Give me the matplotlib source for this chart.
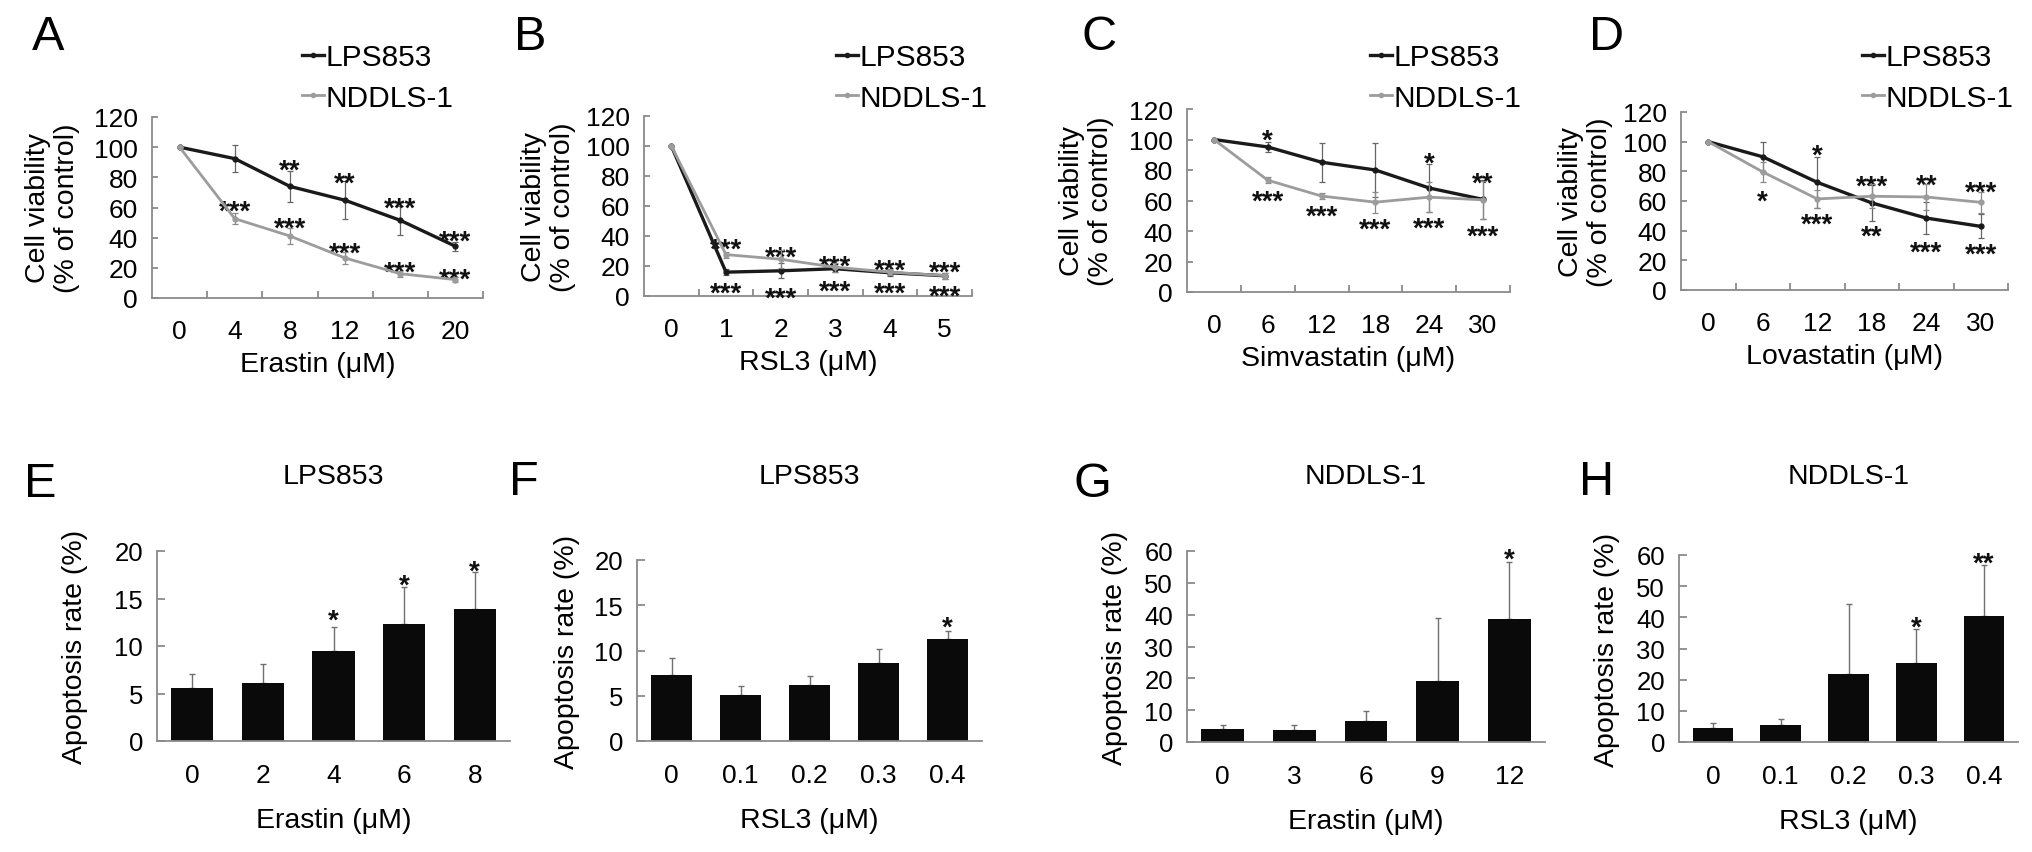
import numpy as np
import matplotlib
matplotlib.use("Agg")
import matplotlib.pyplot as plt
from matplotlib.lines import Line2D

plt.rcParams['font.family'] = ['Liberation Sans', 'DejaVu Sans']

# ---------------- data ----------------
A_labels = ['0', '4', '8', '12', '16', '20']
A_lps = [100, 92.4, 74, 64.8, 51.5, 34.3]
A_lps_err = [0, 9, 10.5, 12.5, 9.5, 3]
A_nd = [100, 52.6, 41.1, 26.5, 16.1, 12.2]
A_nd_err = [0, 3.5, 5, 4, 2, 1.5]
A_star_x = [2, 3, 4, 5, 1, 2, 3, 4, 5]
A_star_y = [89.7, 81.3, 64.8, 43.1, 62.5, 51.5, 34.9, 22.3, 17.7]
A_star_t = ['**', '**', '***', '***', '***', '***', '***', '***', '***']

B_labels = ['0', '1', '2', '3', '4', '5']
B_lps = [100, 15.9, 16.8, 18.2, 15.5, 13.5]
B_lps_err = [0, 2, 5, 2, 2, 2]
B_nd = [100, 27.6, 24.5, 19.2, 15.9, 13.6]
B_nd_err = [0, 2, 6, 3, 2, 2]
B_star_x = [1, 2, 3, 4, 5, 1, 2, 3, 4, 5]
B_star_y = [36.2, 31.2, 25, 22.2, 21.1, 7.4, 4.0, 8.3, 7.2, 5.2]
B_star_t = ['***'] * 10

C_labels = ['0', '6', '12', '18', '24', '30']
C_lps = [100, 95.1, 85.1, 80, 68.2, 60.7]
C_lps_err = [0, 3, 12.7, 18, 16, 12.6]
C_nd = [100, 73.3, 62.9, 58.9, 62.2, 60.4]
C_nd_err = [0, 2, 2, 7, 10, 12.7]
C_star_x = [1, 4, 5, 1, 2, 3, 4, 5]
C_star_y = [104.4, 89.3, 76.7, 64.9, 55.1, 46.2, 46.7, 41.8]
C_star_t = ['*', '*', '**', '***', '***', '***', '***', '***']

D_labels = ['0', '6', '12', '18', '24', '30']
D_lps = [100, 89.8, 72.6, 58.7, 48.5, 42.9]
D_lps_err = [0, 10, 17, 12, 11, 8]
D_nd = [100, 79.6, 61.4, 63.2, 62.7, 59.1]
D_nd_err = [0, 7, 6, 8, 9, 7]
D_star_x = [1, 2, 2, 3, 3, 4, 4, 5, 5]
D_star_y = [65, 95.9, 49.6, 75.1, 41.7, 76.2, 30.5, 71, 29.3]
D_star_t = ['*', '*', '***', '***', '**', '**', '***', '***', '***']

E_labels = ['0', '2', '4', '6', '8']
E_vals = [5.6, 6.1, 9.5, 12.35, 13.9]
E_err = [1.5, 2.0, 2.5, 3.85, 3.9]
E_stars = ['', '', '*', '*', '*']
E_star_y = [0, 0, 13.5, 17.2, 18.7]

F_labels = ['0', '0.1', '0.2', '0.3', '0.4']
F_vals = [7.26, 5.12, 6.22, 8.66, 11.27]
F_err = [1.87, 0.96, 0.98, 1.54, 0.88]
F_stars = ['', '', '', '', '*']
F_star_y = [0, 0, 0, 0, 13.4]

G_labels = ['0', '3', '6', '9', '12']
G_vals = [4.2, 3.65, 6.7, 19.3, 38.6]
G_err = [1.0, 1.75, 3.1, 19.6, 18.0]
G_stars = ['', '', '', '', '*']
G_star_y = [0, 0, 0, 0, 60.0]

H_labels = ['0', '0.1', '0.2', '0.3', '0.4']
H_vals = [4.6, 5.6, 21.8, 25.5, 40.5]
H_err = [1.6, 1.7, 22.5, 10.9, 16.3]
H_stars = ['', '', '', '*', '**']
H_star_y = [0, 0, 0, 39.4, 60.0]

# ---------------- layout ----------------
W, H = 2032, 853
fig = plt.figure(figsize=(W / 100, H / 100), dpi=100)

SPINE = '#8a8a8a'
BLACK = '#1a1a1a'
GRAY = '#9c9c9c'
STAR_FS = 20
LAB_FS = 20.5
TICK_FS = 19


def add_ax(x0, x1, ytop, ybot):
    return fig.add_axes([x0 / W, 1 - ybot / H, (x1 - x0) / W, (ybot - ytop) / H])


def style(ax):
    for s in ['top', 'right']:
        ax.spines[s].set_visible(False)
    for s in ['left', 'bottom']:
        ax.spines[s].set_color(SPINE)
        ax.spines[s].set_linewidth(1.3)


def star(ax, x, y, t):
    if not t:
        return
    ax.annotate(t, (x, y), xytext=(0, -0.55 * STAR_FS), textcoords='offset points',
                ha='center', va='baseline', fontsize=STAR_FS, fontweight='bold',
                color='#111111', clip_on=False, annotation_clip=False)


def line_panel(box, labels, lps, lps_err, nd, nd_err, sx, sy, st, xlabel, ylab_px, leg_xy, letter_xy, letter):
    ax = add_ax(*box)
    style(ax)
    x = np.arange(len(labels))
    ax.errorbar(x, lps, yerr=lps_err, color=BLACK, lw=2.4, marker='o', ms=3.5,
                elinewidth=0.9, ecolor='#666666', capsize=2, capthick=0.9, zorder=3)
    ax.errorbar(x, nd, yerr=nd_err, color=GRAY, lw=2.0, marker='o', ms=3.5,
                elinewidth=0.9, ecolor='#8a8a8a', capsize=2, capthick=0.9, zorder=4)
    for xi, yi, ti in zip(sx, sy, st):
        star(ax, xi, yi, ti)
    ax.set_xlim(-0.5, len(labels) - 0.5)
    ax.set_ylim(0, 120)
    ax.set_yticks(np.arange(0, 121, 20))
    ax.set_xticks(x)
    ax.set_xticklabels(labels)
    ax.set_xticks(np.arange(0.5, len(labels), 1), minor=True)
    ax.tick_params(axis='x', which='major', length=0, pad=15, labelsize=TICK_FS)
    ax.tick_params(axis='x', which='minor', direction='in', length=5, width=1.3, color=SPINE)
    ax.tick_params(axis='y', direction='in', length=4, width=1.3, color=SPINE, pad=10, labelsize=TICK_FS)
    ax.set_xlabel(xlabel, fontsize=LAB_FS, labelpad=6)
    ax.set_ylabel('Cell viability\n(% of control)', fontsize=LAB_FS, linespacing=1.15)
    x0, x1 = box[0], box[1]
    ax.yaxis.set_label_coords((ylab_px - x0) / (x1 - x0), 0.5)
    handles = [Line2D([], [], color=BLACK, lw=2.4, marker='o', ms=3),
               Line2D([], [], color=GRAY, lw=2.0, marker='o', ms=3)]
    fig.legend(handles, ['LPS853', 'NDDLS-1'], loc='upper left',
               bbox_to_anchor=(leg_xy[0] / W, 1 - leg_xy[1] / H), bbox_transform=fig.transFigure,
               frameon=False, fontsize=21.5, handlelength=0.75, handletextpad=0.05,
               labelspacing=0.42, borderpad=0, borderaxespad=0)
    fig.text(letter_xy[0] / W, 1 - letter_xy[1] / H, letter, fontsize=35, ha='left', va='baseline')
    return ax


def bar_panel(box, labels, vals, err, stars, star_y, ymax, ystep, xlabel, title, ylab_px, letter_xy, letter):
    ax = add_ax(*box)
    style(ax)
    x = np.arange(len(labels))
    ax.errorbar(x, vals, yerr=[np.zeros(len(vals)), err], fmt='none', ecolor='#707070',
                elinewidth=1.0, capsize=2.5, capthick=1.0, zorder=1)
    ax.bar(x, vals, width=0.6, color='#0a0a0a', zorder=2)
    for xi, yi, ti in zip(x, star_y, stars):
        star(ax, xi, yi, ti)
    ax.set_xlim(-0.5, len(labels) - 0.5)
    ax.set_ylim(0, ymax)
    ax.set_yticks(np.arange(0, ymax + 0.1, ystep))
    ax.set_xticks(x)
    ax.set_xticklabels(labels)
    ax.tick_params(axis='x', length=0, pad=16, labelsize=TICK_FS)
    ax.tick_params(axis='y', direction='in', length=6, width=1.3, color=SPINE, pad=10, labelsize=TICK_FS - 0.5)
    ax.set_xlabel(xlabel, fontsize=LAB_FS, labelpad=14)
    ax.set_ylabel('Apoptosis rate (%)', fontsize=LAB_FS)
    x0, x1 = box[0], box[1]
    ax.yaxis.set_label_coords((ylab_px - x0) / (x1 - x0), 0.5)
    fig.text((x0 + x1) / 2 / W, 1 - 477 / H, title, fontsize=LAB_FS, ha='center', va='center')
    fig.text(letter_xy[0] / W, 1 - letter_xy[1] / H, letter, fontsize=35, ha='left', va='baseline')
    return ax


line_panel((152, 483, 118, 299), A_labels, A_lps, A_lps_err, A_nd, A_nd_err,
           A_star_x, A_star_y, A_star_t, 'Erastin (\u03bcM)', 80, (302, 44), (32, 50), 'A')
line_panel((644, 972, 117, 297), B_labels, B_lps, B_lps_err, B_nd, B_nd_err,
           B_star_x, B_star_y, B_star_t, 'RSL3 (\u03bcM)', 576, (836, 44), (514, 50), 'B')
line_panel((1187, 1510, 110, 293), C_labels, C_lps, C_lps_err, C_nd, C_nd_err,
           C_star_x, C_star_y, C_star_t, 'Simvastatin (\u03bcM)', 1114, (1370, 44), (1082, 50), 'C')
line_panel((1681, 2008, 113, 291), D_labels, D_lps, D_lps_err, D_nd, D_nd_err,
           D_star_x, D_star_y, D_star_t, 'Lovastatin (\u03bcM)', 1613, (1862, 44), (1589, 50), 'D')

bar_panel((157, 510, 552, 742), E_labels, E_vals, E_err, E_stars, E_star_y, 20, 5,
          'Erastin (\u03bcM)', 'LPS853', 88, (24, 497), 'E')
bar_panel((637, 982, 561, 742), F_labels, F_vals, F_err, F_stars, F_star_y, 20, 5,
          'RSL3 (\u03bcM)', 'LPS853', 580, (509, 495), 'F')
bar_panel((1187, 1545, 552, 743), G_labels, G_vals, G_err, G_stars, G_star_y, 60, 10,
          'Erastin (\u03bcM)', 'NDDLS-1', 1128, (1074, 497), 'G')
bar_panel((1679, 2018, 556, 743), H_labels, H_vals, H_err, H_stars, H_star_y, 60, 10,
          'RSL3 (\u03bcM)', 'NDDLS-1', 1620, (1579, 495), 'H')

fig.savefig('out.png', dpi=100, facecolor='white')
